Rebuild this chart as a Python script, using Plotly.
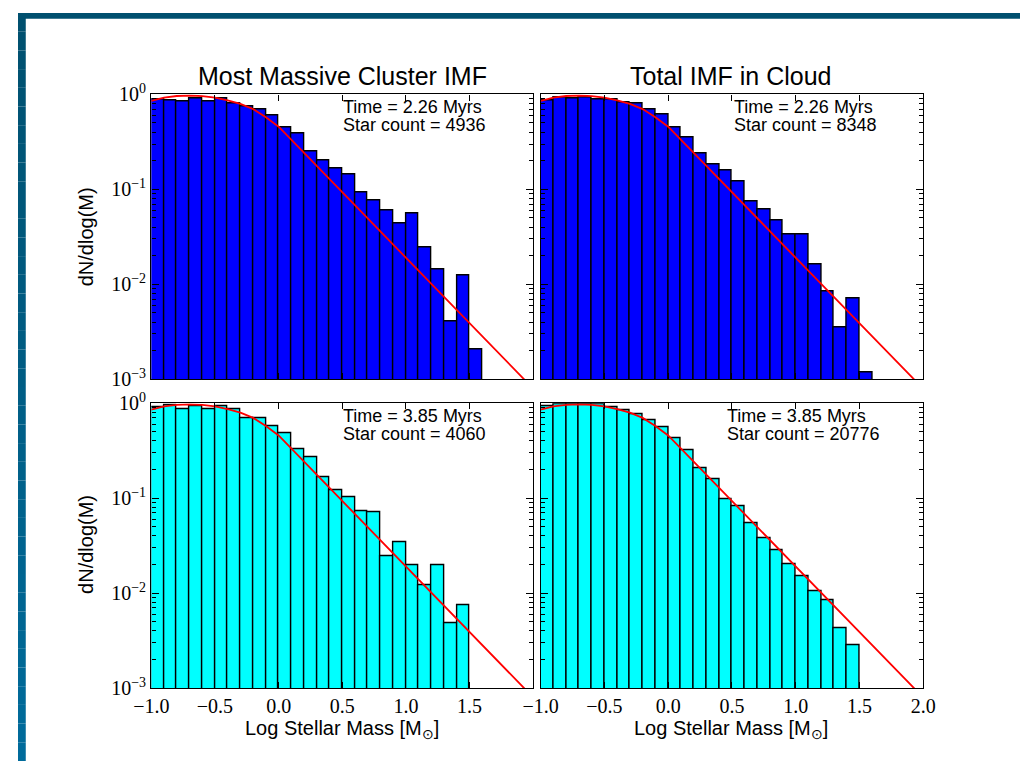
import plotly.graph_objects as go

# Histogram bins: centres of 0.1-dex bins in log stellar mass
bin_centres_26 = [-0.95, -0.85, -0.75, -0.65, -0.55, -0.45, -0.35, -0.25, -0.15, -0.05,
                  0.05, 0.15, 0.25, 0.35, 0.45, 0.55, 0.65, 0.75, 0.85, 0.95,
                  1.05, 1.15, 1.25, 1.35, 1.45, 1.55]
bin_centres_25 = bin_centres_26[:25]

# dN/dlog(M) per bin
cluster_t1 = [0.89, 0.87, 0.845, 0.90, 0.85, 0.90, 0.805, 0.755, 0.687, 0.595,
              0.447, 0.391, 0.252, 0.203, 0.165, 0.145, 0.092, 0.0768, 0.0607, 0.0437,
              0.0554, 0.0244, 0.0143, 0.00403, 0.0123, 0.00204]
cloud_t1 = [0.87, 0.94, 0.90, 0.925, 0.88, 0.88, 0.82, 0.80, 0.687, 0.615,
            0.447, 0.353, 0.241, 0.182, 0.157, 0.120, 0.0745, 0.0622, 0.0473, 0.0338,
            0.0338, 0.0164, 0.00833, 0.00355, 0.00713, 0.00117]
cluster_t2 = [0.91, 0.947, 0.861, 0.925, 0.861, 0.925, 0.869, 0.687, 0.687, 0.569,
              0.479, 0.331, 0.270, 0.166, 0.120, 0.102, 0.0737, 0.0720, 0.0242, 0.0340,
              0.0196, 0.0122, 0.0196, 0.00487, 0.00737]
cloud_t2 = [0.94, 0.985, 0.985, 0.985, 0.98, 0.904, 0.836, 0.767, 0.665, 0.560,
            0.423, 0.317, 0.208, 0.157, 0.0969, 0.0816, 0.0551, 0.0382, 0.0283, 0.0202,
            0.0150, 0.0105, 0.00849, 0.00426, 0.00281]

# Reference IMF curve (log-normal body, power-law tail)
imf_logm = [-1.0, -0.9, -0.8, -0.7, -0.6, -0.5, -0.4, -0.3, -0.2, -0.1, 0.0, 0.5, 1.0, 1.5, 2.0]
imf_vals = [0.855, 0.923, 0.962, 0.973, 0.959, 0.925, 0.867, 0.794, 0.700, 0.575,
            0.457, 0.0933, 0.0191, 0.00389, 0.000794]

panel_titles = ["Most Massive Cluster IMF", "Total IMF in Cloud"]
panel_times = ["2.26", "2.26", "3.85", "3.85"]
panel_counts = ["4936", "8348", "4060", "20776"]

x_ticks = [-1.0, -0.5, 0.0, 0.5, 1.0, 1.5, 2.0]
x_tick_text = ["\u22121.0", "\u22120.5", "0.0", "0.5", "1.0", "1.5", "2.0"]
y_ticks = [1, 0.1, 0.01, 0.001]
y_tick_text = ["10<sup>0</sup>", "10<sup>\u22121</sup>", "10<sup>\u22122</sup>", "10<sup>\u22123</sup>"]
y_minor = [m * 10.0 ** e for e in (-3, -2, -1) for m in range(2, 10)]

W, H = 1032, 772
SANS = "Liberation Sans, Arial, sans-serif"
SERIF = "Liberation Serif, Times New Roman, serif"

x_dom = {"left": [137.3 / W, 530.7 / W], "right": [538.3 / W, 932.3 / W]}
y_dom = {"top": [1 - 378 / H, 1 - 84 / H], "bottom": [1 - 696.7 / H, 1 - 402.7 / H]}

panels = [
    # (axis suffix, x domain, y domain, values, centres, colour, text x)
    ("", "left", "top", cluster_t1, bin_centres_26, "#0000ff", 0.497),
    ("2", "right", "top", cloud_t1, bin_centres_26, "#0000ff", 0.501),
    ("3", "left", "bottom", cluster_t2, bin_centres_25, "#00ffff", 0.497),
    ("4", "right", "bottom", cloud_t2, bin_centres_25, "#00ffff", 0.481),
]

fig = go.Figure()
annotations = []

for i, (sfx, xd, yd, vals, centres, colour, tx) in enumerate(panels):
    xa, ya = "x" + sfx, "y" + sfx
    fig.add_trace(go.Bar(
        x=centres, y=vals, width=0.1, xaxis=xa, yaxis=ya,
        marker=dict(color=colour, line=dict(color="black", width=1.4)),
        showlegend=False, hoverinfo="skip",
    ))
    fig.add_trace(go.Scatter(
        x=imf_logm, y=imf_vals, mode="lines", xaxis=xa, yaxis=ya,
        line=dict(color="#ff0000", width=1.8), showlegend=False, hoverinfo="skip",
    ))

    bottom_row = yd == "bottom"
    left_col = xd == "left"
    xt = x_ticks if not left_col else x_ticks[:-1]
    xtt = x_tick_text if not left_col else x_tick_text[:-1]
    fig.layout["xaxis" + sfx] = dict(
        domain=x_dom[xd], anchor=ya, range=[-1.0, 2.0],
        tickmode="array", tickvals=xt, ticktext=xtt,
        showticklabels=bottom_row, ticks="inside", ticklen=6, tickwidth=1, tickcolor="black",
        showline=True, linecolor="black", linewidth=1.4, mirror="ticks",
        showgrid=False, zeroline=False,
        tickfont=dict(family=SERIF, size=20, color="black"),
    )
    fig.layout["yaxis" + sfx] = dict(
        domain=y_dom[yd], anchor=xa, type="log", range=[-3, 0],
        tickmode="array", tickvals=y_ticks, ticktext=y_tick_text,
        showticklabels=left_col, ticks="inside", ticklen=7, tickwidth=1, tickcolor="black",
        showline=True, linecolor="black", linewidth=1.4, mirror="ticks",
        showgrid=False, zeroline=False,
        minor=dict(tickmode="array", tickvals=y_minor, ticks="inside", ticklen=4,
                   tickwidth=1, tickcolor="black", showgrid=False),
        tickfont=dict(family=SERIF, size=20, color="black"),
    )

    annotations.append(dict(
        xref=xa + " domain", yref=ya + " domain", x=tx, y=0.955,
        xanchor="left", yanchor="middle", showarrow=False,
        text="Time = " + panel_times[i] + " Myrs",
        font=dict(family=SANS, size=18, color="black"),
    ))
    annotations.append(dict(
        xref=xa + " domain", yref=ya + " domain", x=tx, y=0.893,
        xanchor="left", yanchor="middle", showarrow=False,
        text="Star count = " + panel_counts[i],
        font=dict(family=SANS, size=18, color="black"),
    ))

# Column titles
for t, cx in zip(panel_titles, [334 / W, 734 / W]):
    annotations.append(dict(xref="paper", yref="paper", x=cx, y=1 - 65 / H,
                            xanchor="center", yanchor="middle", showarrow=False, text=t,
                            font=dict(family=SANS, size=25, color="black")))

# Axis labels
for cx in [334 / W, 734 / W]:
    annotations.append(dict(xref="paper", yref="paper", x=cx, y=1 - 740 / H,
                            xanchor="center", yanchor="middle", showarrow=False,
                            text="Log Stellar Mass [M<sub>\u2299</sub>]",
                            font=dict(family=SANS, size=20, color="black")))
for cy in [1 - 230.5 / H, 1 - 548 / H]:
    annotations.append(dict(xref="paper", yref="paper", x=70 / W, y=cy,
                            xanchor="center", yanchor="middle", showarrow=False,
                            text="dN/dlog(M)", textangle=-90,
                            font=dict(family=SANS, size=20, color="black")))

# Slide frame: dark band along the top and a shaded band down the left edge
shapes = [dict(type="rect", xref="paper", yref="paper", x0=0, x1=1, y0=1 - 6 / H, y1=1,
               line=dict(width=0), fillcolor="#00506f")]
n_strips = 40
c_top, c_bot = (0x00, 0x50, 0x6f), (0x00, 0x6b, 0x9b)
for k in range(n_strips):
    f = k / (n_strips - 1)
    col = "rgb({},{},{})".format(*[round(a + (b - a) * f) for a, b in zip(c_top, c_bot)])
    shapes.append(dict(type="rect", xref="paper", yref="paper", x0=0, x1=8 / W,
                       y0=1 - (k + 1) / n_strips, y1=1 - k / n_strips,
                       line=dict(width=0), fillcolor=col))

fig.update_layout(
    width=W, height=H, margin=dict(l=0, r=0, t=0, b=0),
    paper_bgcolor="white", plot_bgcolor="white",
    bargap=0, annotations=annotations, shapes=shapes,
)

fig.write_html("out.html")
